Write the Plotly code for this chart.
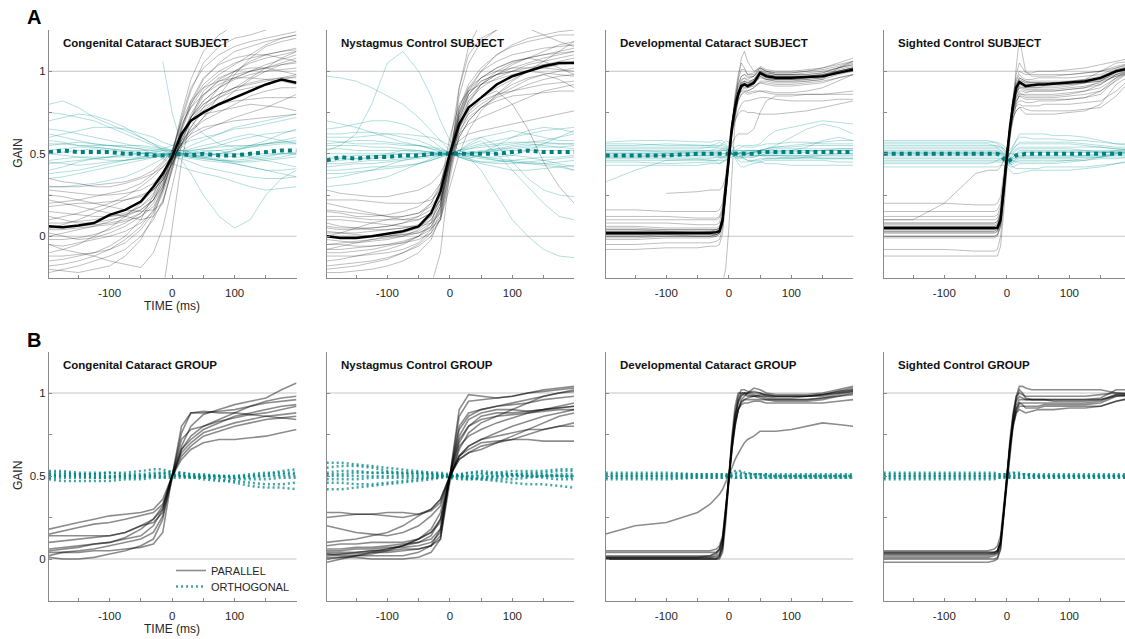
import plotly.graph_objects as go

# ---------------- time grids (ms) ----------------
TS = [-197, -175, -150, -125, -100, -75, -50, -30, -15, 0, 15, 30, 50, 75, 100, 125, 150, 175, 199]
TD = [-197, -150, -100, -50, -30, -20, -15, -10, -5, 0, 5, 10, 15, 20, 25, 30, 40, 50, 60, 75, 100, 125, 150, 175, 199]

# ---------------- A1: Congenital Cataract SUBJECT ----------------
A1_PAR = [
    [-0.15, -0.14, -0.12, -0.10, -0.06, 0.00, 0.10, 0.25, 0.38, 0.50, 0.70, 0.88, 1.05, 1.15, 1.20, 1.22, 1.25, 1.28, 1.30],
    [0.05, 0.05, 0.06, 0.07, 0.08, 0.10, 0.14, 0.22, 0.35, 0.52, 0.68, 0.78, 0.86, 0.92, 0.96, 1.00, 1.02, 1.05, 1.08],
    [0.20, 0.21, 0.22, 0.24, 0.26, 0.28, 0.32, 0.38, 0.44, 0.50, 0.58, 0.64, 0.70, 0.75, 0.80, 0.85, 0.88, 0.90, 0.90],
    [-0.05, -0.06, -0.04, -0.02, 0.00, 0.03, 0.08, 0.15, 0.28, 0.46, 0.65, 0.80, 0.95, 1.05, 1.12, 1.15, 1.18, 1.20, 1.22],
    [0.25, 0.24, 0.22, 0.20, 0.18, 0.16, 0.15, 0.16, 0.20, 0.40, 0.62, 0.70, 0.74, 0.76, 0.78, 0.80, 0.79, 0.78, 0.76],
    [0.10, 0.12, 0.14, 0.17, 0.20, 0.24, 0.30, 0.36, 0.42, 0.48, 0.55, 0.62, 0.72, 0.85, 0.98, 1.08, 1.15, 1.18, 1.20],
    [-0.20, -0.21, -0.22, -0.20, -0.18, -0.12, -0.02, 0.12, 0.28, 0.46, 0.66, 0.82, 0.96, 1.04, 1.08, 1.10, 1.10, 1.08, 1.06],
    [0.02, 0.00, -0.02, -0.01, 0.02, 0.06, 0.12, 0.20, 0.30, 0.44, 0.58, 0.70, 0.78, 0.84, 0.88, 0.90, 0.92, 0.95, 0.97],
    [0.35, 0.33, 0.32, 0.30, 0.30, 0.32, 0.35, 0.38, 0.42, 0.48, 0.56, 0.62, 0.66, 0.68, 0.70, 0.71, 0.72, 0.73, 0.74],
    [0.12, 0.10, 0.08, 0.08, 0.10, 0.12, 0.16, 0.22, 0.32, 0.50, 0.72, 0.90, 1.02, 1.10, 1.15, 1.18, 1.20, 1.22, 1.24],
    [-0.10, -0.08, -0.05, 0.00, 0.05, 0.12, 0.20, 0.28, 0.36, 0.46, 0.56, 0.64, 0.72, 0.80, 0.88, 0.95, 1.00, 1.04, 1.06],
    [0.22, 0.20, 0.18, 0.16, 0.14, 0.12, 0.10, 0.12, 0.20, 0.42, 0.60, 0.72, 0.82, 0.90, 0.95, 0.98, 1.00, 1.01, 1.02],
    [-0.18, -0.17, -0.15, -0.12, -0.08, -0.02, 0.06, 0.16, 0.30, 0.50, 0.74, 0.95, 1.12, 1.22, 1.28, 1.30, 1.30, 1.30, 1.30],
    [0.05, 0.07, 0.10, 0.14, 0.18, 0.22, 0.25, 0.28, 0.34, 0.44, 0.54, 0.60, 0.64, 0.68, 0.72, 0.75, 0.78, 0.82, 0.86],
    [-0.05, -0.08, -0.10, -0.12, -0.15, -0.17, -0.19, -0.10, 0.05, 0.30, 0.55, 0.72, 0.85, 0.95, 1.00, 1.05, 1.08, 1.10, 1.12],
    [-0.30, -0.32, -0.34, -0.36, -0.38, -0.40, -0.42, -0.42, -0.35, 0.05, 0.45, 0.72, 0.88, 0.96, 1.00, 1.02, 1.02, 1.00, 0.98],
    [0.00, 0.02, 0.04, 0.06, 0.09, 0.13, 0.18, 0.26, 0.36, 0.50, 0.66, 0.80, 0.92, 1.00, 1.05, 1.08, 1.10, 1.12, 1.14],
    [0.28, 0.27, 0.26, 0.25, 0.25, 0.26, 0.28, 0.32, 0.38, 0.46, 0.56, 0.66, 0.78, 0.90, 1.00, 1.06, 1.10, 1.12, 1.13],
    [-0.12, -0.12, -0.11, -0.10, -0.08, -0.04, 0.04, 0.14, 0.26, 0.42, 0.60, 0.74, 0.86, 0.94, 0.98, 1.00, 1.02, 1.04, 1.05],
    [0.08, 0.08, 0.09, 0.10, 0.12, 0.14, 0.18, 0.24, 0.34, 0.52, 0.70, 0.82, 0.90, 0.94, 0.96, 0.96, 0.95, 0.94, 0.92],
    [0.18, 0.19, 0.20, 0.20, 0.21, 0.22, 0.24, 0.28, 0.34, 0.44, 0.56, 0.66, 0.76, 0.84, 0.90, 0.96, 1.02, 1.08, 1.12],
    [-0.02, -0.02, -0.01, 0.01, 0.04, 0.08, 0.14, 0.22, 0.32, 0.48, 0.62, 0.72, 0.80, 0.86, 0.90, 0.92, 0.94, 0.96, 0.98],
    [0.15, 0.14, 0.13, 0.12, 0.12, 0.13, 0.16, 0.22, 0.30, 0.46, 0.64, 0.78, 0.90, 0.98, 1.04, 1.10, 1.16, 1.20, 1.22],
    [-0.22, -0.20, -0.18, -0.15, -0.12, -0.08, 0.00, 0.10, 0.22, 0.40, 0.58, 0.70, 0.80, 0.86, 0.90, 0.93, 0.95, 0.96, 0.96],
    [0.04, 0.04, 0.05, 0.06, 0.07, 0.09, 0.12, 0.18, 0.28, 0.44, 0.60, 0.70, 0.76, 0.80, 0.82, 0.83, 0.84, 0.84, 0.84],
    [0.30, 0.30, 0.30, 0.31, 0.32, 0.33, 0.36, 0.40, 0.45, 0.52, 0.62, 0.72, 0.82, 0.90, 0.96, 1.00, 1.04, 1.07, 1.10],
]
A1_ORT = [
    [0.80, 0.82, 0.78, 0.72, 0.68, 0.64, 0.60, 0.56, 0.54, 0.52, 0.50, 0.48, 0.47, 0.46, 0.46, 0.47, 0.48, 0.50, 0.50],
    [0.40, 0.42, 0.45, 0.47, 0.48, 0.50, 0.50, 0.51, 0.50, 0.50, 0.46, 0.38, 0.25, 0.12, 0.05, 0.10, 0.25, 0.35, 0.40],
    [0.60, 0.62, 0.64, 0.66, 0.66, 0.65, 0.62, 0.60, 0.57, 0.55, 0.56, 0.58, 0.60, 0.62, 0.65, 0.66, 0.68, 0.70, 0.72],
    [0.45, 0.44, 0.43, 0.44, 0.45, 0.46, 0.47, 0.48, 0.49, 0.50, 0.51, 0.52, 0.53, 0.54, 0.55, 0.55, 0.56, 0.57, 0.58],
    [0.55, 0.56, 0.57, 0.56, 0.55, 0.54, 0.53, 0.52, 0.51, 0.50, 0.48, 0.47, 0.46, 0.45, 0.44, 0.42, 0.40, 0.38, 0.36],
    [0.35, 0.36, 0.38, 0.40, 0.42, 0.44, 0.46, 0.48, 0.49, 0.50, 0.52, 0.55, 0.58, 0.62, 0.66, 0.68, 0.70, 0.72, 0.74],
    [0.70, 0.72, 0.74, 0.73, 0.70, 0.66, 0.60, 0.56, 0.52, 0.50, 0.49, 0.48, 0.48, 0.50, 0.52, 0.54, 0.56, 0.58, 0.60],
    [0.50, 0.51, 0.52, 0.53, 0.52, 0.51, 0.50, 0.50, 0.49, 0.48, 0.47, 0.45, 0.42, 0.40, 0.38, 0.36, 0.35, 0.35, 0.36],
    [0.30, 0.30, 0.31, 0.32, 0.34, 0.36, 0.40, 0.44, 0.47, 0.49, 0.50, 0.51, 0.52, 0.52, 0.50, 0.48, 0.46, 0.44, 0.42],
    [0.58, 0.57, 0.55, 0.54, 0.53, 0.52, 0.52, 0.52, 0.53, 0.55, 0.60, 0.70, 0.62, 0.56, 0.54, 0.55, 0.56, 0.57, 0.57],
    [None, None, None, None, None, None, None, None, 1.06, 0.75, 0.55, 0.50, 0.48, 0.47, 0.45, 0.45, 0.46, 0.47, 0.48],
    [0.62, 0.60, 0.58, 0.56, 0.55, 0.54, 0.53, 0.50, 0.47, 0.44, 0.42, 0.40, 0.38, 0.36, 0.33, 0.30, 0.28, 0.29, 0.30],
    [0.52, 0.53, 0.54, 0.54, 0.53, 0.52, 0.51, 0.50, 0.50, 0.50, 0.50, 0.50, 0.51, 0.52, 0.53, 0.54, 0.55, 0.56, 0.56],
    [0.46, 0.47, 0.48, 0.48, 0.48, 0.48, 0.48, 0.49, 0.49, 0.49, 0.49, 0.48, 0.47, 0.46, 0.45, 0.46, 0.47, 0.48, 0.50],
    [0.65, 0.64, 0.62, 0.60, 0.58, 0.56, 0.54, 0.53, 0.52, 0.51, 0.50, 0.49, 0.49, 0.50, 0.52, 0.55, 0.58, 0.62, 0.65],
    [0.38, 0.39, 0.40, 0.42, 0.44, 0.46, 0.48, 0.49, 0.50, 0.50, 0.50, 0.49, 0.48, 0.46, 0.44, 0.42, 0.40, 0.40, 0.41],
    [0.56, 0.56, 0.55, 0.55, 0.55, 0.55, 0.55, 0.54, 0.53, 0.52, 0.52, 0.52, 0.53, 0.55, 0.58, 0.60, 0.62, 0.63, 0.64],
    [0.44, 0.45, 0.46, 0.47, 0.48, 0.49, 0.50, 0.51, 0.52, 0.52, 0.52, 0.51, 0.50, 0.49, 0.48, 0.48, 0.49, 0.50, 0.51],
    [0.75, 0.74, 0.72, 0.70, 0.66, 0.62, 0.58, 0.55, 0.53, 0.51, 0.50, 0.50, 0.50, 0.50, 0.50, 0.50, 0.50, 0.50, 0.50],
    [0.50, 0.49, 0.48, 0.47, 0.46, 0.46, 0.47, 0.48, 0.49, 0.50, 0.51, 0.53, 0.55, 0.57, 0.60, 0.62, 0.60, 0.58, 0.56],
]
A1_PAR_MEAN = [0.06, 0.055, 0.065, 0.08, 0.13, 0.16, 0.21, 0.30, 0.38, 0.48, 0.62, 0.70, 0.75, 0.80, 0.84, 0.88, 0.92, 0.95, 0.93]
A1_ORT_MEAN = [0.51, 0.52, 0.51, 0.51, 0.51, 0.50, 0.50, 0.49, 0.49, 0.49, 0.50, 0.49, 0.50, 0.49, 0.49, 0.50, 0.51, 0.52, 0.52]

# ---------------- A2: Nystagmus Control SUBJECT ----------------
A2_PAR = [
    [-0.10, -0.10, -0.09, -0.08, -0.06, -0.04, 0.00, 0.08, 0.25, 0.52, 0.78, 0.92, 1.02, 1.10, 1.15, 1.18, 1.20, 1.22, 1.22],
    [0.05, 0.04, 0.04, 0.05, 0.06, 0.08, 0.10, 0.14, 0.22, 0.45, 0.70, 0.82, 0.90, 0.96, 1.00, 1.04, 1.06, 1.08, 1.10],
    [-0.20, -0.19, -0.18, -0.16, -0.14, -0.10, -0.05, 0.02, 0.15, 0.48, 0.85, 1.05, 1.18, 1.25, 1.30, 1.30, 1.30, 1.30, 1.30],
    [0.15, 0.14, 0.12, 0.12, 0.13, 0.15, 0.18, 0.24, 0.32, 0.50, 0.62, 0.68, 0.72, 0.76, 0.80, 0.84, 0.88, 0.90, 0.92],
    [0.28, 0.26, 0.25, 0.24, 0.24, 0.26, 0.28, 0.32, 0.38, 0.50, 0.58, 0.62, 0.64, 0.66, 0.68, 0.70, 0.72, 0.74, 0.76],
    [-0.02, -0.03, -0.04, -0.03, -0.02, 0.00, 0.04, 0.10, 0.20, 0.42, 0.65, 0.80, 0.92, 1.00, 1.05, 1.08, 1.10, 1.12, 1.14],
    [0.00, 0.02, 0.05, 0.08, 0.10, 0.12, 0.14, 0.18, 0.26, 0.50, 0.74, 0.86, 0.94, 0.98, 1.00, 1.00, 0.99, 0.98, 0.97],
    [-0.15, -0.14, -0.12, -0.10, -0.08, -0.05, 0.00, 0.06, 0.18, 0.55, 0.90, 1.10, 1.20, 1.25, 1.28, 1.26, 1.22, 1.18, 1.15],
    [0.10, 0.10, 0.09, 0.08, 0.07, 0.06, 0.06, 0.08, 0.14, 0.40, 0.60, 0.70, 0.78, 0.85, 0.90, 0.95, 0.98, 1.00, 1.02],
    [-0.08, -0.06, -0.04, -0.02, 0.00, 0.02, 0.05, 0.12, 0.30, 0.60, 0.80, 0.88, 0.92, 0.95, 0.98, 1.00, 1.02, 1.04, 1.05],
    [0.20, 0.18, 0.16, 0.14, 0.12, 0.10, 0.10, 0.14, 0.22, 0.46, 0.68, 0.78, 0.84, 0.88, 0.80, 0.65, 0.45, 0.30, 0.20],
    [-0.22, -0.22, -0.21, -0.20, -0.18, -0.15, -0.10, -0.02, 0.12, 0.45, 0.75, 0.90, 1.00, 1.06, 1.10, 1.12, 1.14, 1.15, 1.16],
    [0.03, 0.02, 0.01, 0.00, 0.00, 0.01, 0.02, 0.05, 0.10, 0.35, 0.62, 0.75, 0.84, 0.90, 0.95, 1.00, 1.06, 1.12, 1.18],
    [-0.35, -0.35, -0.35, -0.35, -0.35, -0.35, -0.35, -0.30, -0.10, 0.40, 0.90, 1.15, 1.30, 1.30, 1.30, 1.30, 1.30, 1.30, 1.30],
    [0.08, 0.06, 0.05, 0.05, 0.06, 0.08, 0.12, 0.20, 0.32, 0.52, 0.66, 0.74, 0.80, 0.86, 0.92, 0.96, 0.98, 0.95, 0.90],
    [-0.05, -0.05, -0.06, -0.06, -0.05, -0.04, -0.02, 0.02, 0.10, 0.30, 0.50, 0.64, 0.76, 0.86, 0.94, 1.00, 1.04, 1.06, 1.08],
    [0.02, 0.02, 0.02, 0.03, 0.04, 0.05, 0.07, 0.12, 0.22, 0.50, 0.76, 0.88, 0.96, 1.02, 1.06, 1.08, 1.10, 1.11, 1.12],
    [-0.12, -0.12, -0.12, -0.11, -0.10, -0.08, -0.04, 0.04, 0.18, 0.46, 0.72, 0.86, 0.94, 0.98, 1.00, 1.02, 1.04, 1.05, 1.06],
    [0.22, 0.22, 0.22, 0.21, 0.20, 0.20, 0.20, 0.22, 0.28, 0.44, 0.60, 0.70, 0.78, 0.84, 0.88, 0.92, 0.95, 0.97, 0.98],
    [0.06, 0.05, 0.05, 0.04, 0.04, 0.05, 0.06, 0.10, 0.20, 0.48, 0.74, 0.88, 1.00, 1.10, 1.16, 1.20, 1.22, 1.24, 1.25],
    [-0.05, -0.04, -0.03, -0.02, -0.01, 0.00, 0.02, 0.06, 0.16, 0.44, 0.66, 0.76, 0.82, 0.86, 0.88, 0.90, 0.92, 0.93, 0.94],
    [0.12, 0.12, 0.11, 0.10, 0.10, 0.10, 0.12, 0.16, 0.24, 0.50, 0.72, 0.84, 0.92, 0.98, 1.02, 1.05, 1.08, 1.10, 1.12],
    [-0.18, -0.17, -0.16, -0.15, -0.13, -0.10, -0.06, 0.00, 0.10, 0.38, 0.66, 0.82, 0.92, 0.98, 1.04, 1.08, 1.12, 1.16, 1.18],
    [0.00, 0.00, 0.00, 0.00, 0.00, 0.01, 0.03, 0.08, 0.18, 0.50, 0.78, 0.90, 0.96, 1.00, 1.02, 1.02, 1.02, 1.01, 1.00],
    [0.16, 0.15, 0.14, 0.13, 0.12, 0.12, 0.14, 0.20, 0.30, 0.50, 0.64, 0.72, 0.78, 0.82, 0.85, 0.86, 0.87, 0.88, 0.88],
    [-0.08, -0.08, -0.07, -0.06, -0.05, -0.03, 0.00, 0.04, 0.12, 0.40, 0.70, 0.86, 0.96, 1.02, 1.06, 1.08, 1.06, 1.02, 0.98],
]
A2_ORT = [
    [0.52, 0.55, 0.62, 0.80, 1.05, 1.12, 1.00, 0.85, 0.70, 0.58, 0.52, 0.50, 0.48, 0.46, 0.45, 0.44, 0.44, 0.45, 0.46],
    [0.97, 0.96, 0.94, 0.90, 0.85, 0.80, 0.72, 0.64, 0.58, 0.52, 0.48, 0.46, 0.45, 0.45, 0.46, 0.47, 0.48, 0.48, 0.49],
    [0.45, 0.46, 0.47, 0.48, 0.50, 0.52, 0.52, 0.51, 0.50, 0.50, 0.50, 0.48, 0.40, 0.25, 0.10, 0.00, -0.08, -0.12, -0.13],
    [0.60, 0.60, 0.60, 0.61, 0.62, 0.62, 0.61, 0.60, 0.58, 0.55, 0.56, 0.58, 0.60, 0.62, 0.64, 0.62, 0.60, 0.58, 0.58],
    [0.40, 0.40, 0.41, 0.42, 0.42, 0.43, 0.44, 0.46, 0.48, 0.50, 0.52, 0.53, 0.54, 0.55, 0.56, 0.57, 0.58, 0.60, 0.62],
    [0.55, 0.55, 0.55, 0.54, 0.54, 0.53, 0.52, 0.51, 0.50, 0.50, 0.49, 0.48, 0.47, 0.46, 0.45, 0.44, 0.43, 0.42, 0.40],
    [0.35, 0.36, 0.38, 0.40, 0.43, 0.46, 0.48, 0.49, 0.50, 0.50, 0.52, 0.56, 0.60, 0.55, 0.45, 0.35, 0.28, 0.25, 0.24],
    [0.65, 0.66, 0.68, 0.70, 0.70, 0.68, 0.64, 0.58, 0.54, 0.50, 0.48, 0.47, 0.50, 0.55, 0.60, 0.64, 0.66, 0.65, 0.63],
    [0.48, 0.48, 0.49, 0.49, 0.49, 0.50, 0.50, 0.50, 0.50, 0.50, 0.50, 0.51, 0.52, 0.53, 0.53, 0.54, 0.54, 0.54, 0.55],
    [0.30, 0.31, 0.32, 0.34, 0.36, 0.40, 0.44, 0.47, 0.49, 0.50, 0.52, 0.55, 0.58, 0.50, 0.40, 0.30, 0.20, 0.12, 0.10],
    [0.58, 0.57, 0.56, 0.56, 0.56, 0.55, 0.55, 0.54, 0.53, 0.51, 0.50, 0.49, 0.48, 0.48, 0.49, 0.52, 0.56, 0.60, 0.64],
    [0.42, 0.43, 0.44, 0.44, 0.45, 0.46, 0.47, 0.48, 0.49, 0.50, 0.50, 0.51, 0.51, 0.50, 0.49, 0.48, 0.46, 0.44, 0.42],
    [0.50, 0.50, 0.50, 0.50, 0.50, 0.50, 0.50, 0.50, 0.50, 0.50, 0.50, 0.50, 0.51, 0.52, 0.52, 0.52, 0.52, 0.52, 0.52],
    [0.53, 0.53, 0.52, 0.52, 0.52, 0.52, 0.51, 0.51, 0.51, 0.50, 0.49, 0.47, 0.45, 0.44, 0.44, 0.45, 0.46, 0.47, 0.48],
    [0.44, 0.44, 0.45, 0.46, 0.46, 0.47, 0.48, 0.49, 0.50, 0.50, 0.51, 0.53, 0.55, 0.56, 0.57, 0.57, 0.57, 0.56, 0.56],
    [0.62, 0.62, 0.63, 0.63, 0.62, 0.60, 0.58, 0.55, 0.52, 0.50, 0.48, 0.46, 0.44, 0.42, 0.40, 0.40, 0.41, 0.42, 0.43],
    [0.38, 0.38, 0.39, 0.40, 0.41, 0.42, 0.44, 0.46, 0.48, 0.50, 0.52, 0.54, 0.56, 0.58, 0.60, 0.62, 0.64, 0.65, 0.66],
    [0.56, 0.57, 0.58, 0.58, 0.57, 0.56, 0.55, 0.53, 0.51, 0.50, 0.50, 0.50, 0.51, 0.53, 0.55, 0.56, 0.55, 0.54, 0.53],
    [0.47, 0.47, 0.47, 0.47, 0.48, 0.48, 0.48, 0.49, 0.49, 0.50, 0.50, 0.49, 0.48, 0.47, 0.46, 0.45, 0.44, 0.43, 0.40],
    [0.70, 0.68, 0.66, 0.63, 0.60, 0.57, 0.55, 0.53, 0.52, 0.51, 0.50, 0.50, 0.50, 0.52, 0.54, 0.55, 0.56, 0.56, 0.56],
]
A2_PAR_MEAN = [0.00, -0.01, -0.01, 0.00, 0.015, 0.03, 0.06, 0.14, 0.27, 0.50, 0.68, 0.78, 0.84, 0.92, 0.97, 1.00, 1.03, 1.05, 1.05]
A2_ORT_MEAN = [0.46, 0.48, 0.47, 0.48, 0.48, 0.49, 0.49, 0.50, 0.50, 0.50, 0.50, 0.50, 0.50, 0.50, 0.51, 0.52, 0.51, 0.51, 0.51]

# ---------------- A3: Developmental Cataract SUBJECT ----------------
A3_PAR = [
    [0.00, 0.00, 0.01, 0.01, 0.01, 0.01, 0.02, 0.08, 0.28, 0.48, 0.66, 0.80, 0.90, 0.95, 0.96, 0.95, 0.97, 1.02, 1.00, 0.98, 0.98, 0.99, 1.00, 1.02, 1.04],
    [0.04, 0.04, 0.03, 0.03, 0.03, 0.04, 0.05, 0.12, 0.32, 0.52, 0.68, 0.80, 0.88, 0.92, 0.93, 0.92, 0.94, 0.98, 0.96, 0.95, 0.95, 0.95, 0.96, 1.00, 1.02],
    [-0.02, -0.02, -0.01, -0.01, -0.01, 0.00, 0.02, 0.10, 0.30, 0.50, 0.70, 0.86, 0.98, 1.05, 1.02, 0.98, 0.99, 1.03, 1.01, 1.00, 1.00, 1.01, 1.02, 1.05, 1.08],
    [0.06, 0.06, 0.05, 0.05, 0.05, 0.05, 0.06, 0.12, 0.30, 0.50, 0.64, 0.74, 0.82, 0.86, 0.88, 0.88, 0.90, 0.93, 0.92, 0.91, 0.91, 0.92, 0.93, 0.96, 0.98],
    [0.01, 0.01, 0.01, 0.00, 0.00, 0.01, 0.02, 0.06, 0.24, 0.46, 0.62, 0.74, 0.84, 0.90, 0.92, 0.90, 0.92, 0.97, 0.95, 0.94, 0.94, 0.94, 0.95, 1.02, 1.06],
    [0.16, 0.16, 0.15, 0.15, 0.15, 0.15, 0.16, 0.20, 0.34, 0.50, 0.62, 0.70, 0.76, 0.80, 0.82, 0.82, 0.83, 0.84, 0.84, 0.83, 0.82, 0.82, 0.82, 0.83, 0.83],
    [0.12, 0.12, 0.12, 0.11, 0.11, 0.11, 0.12, 0.18, 0.34, 0.52, 0.66, 0.76, 0.84, 0.88, 0.90, 0.90, 0.91, 0.93, 0.93, 0.92, 0.92, 0.93, 0.94, 0.96, 0.98],
    [-0.05, -0.05, -0.04, -0.04, -0.04, -0.03, -0.02, 0.05, 0.25, 0.46, 0.64, 0.78, 0.88, 0.94, 0.96, 0.94, 0.95, 1.00, 0.98, 0.97, 0.97, 0.97, 0.98, 1.00, 1.02],
    [None, None, 0.26, 0.27, 0.28, 0.28, 0.28, 0.30, 0.36, 0.48, 0.56, 0.60, 0.62, 0.62, 0.62, 0.62, 0.65, 0.75, 0.82, 0.85, 0.85, 0.86, 0.86, 0.86, 0.86],
    [0.08, 0.08, 0.08, 0.07, 0.07, 0.07, 0.08, 0.16, 0.36, 0.56, 0.70, 0.80, 0.86, 0.88, 0.88, 0.87, 0.88, 0.88, 0.87, 0.86, 0.86, 0.86, 0.86, 0.87, 0.88],
    [0.02, 0.02, 0.02, 0.02, 0.03, 0.03, 0.04, 0.10, 0.28, 0.48, 0.62, 0.70, 0.74, 0.76, 0.76, 0.75, 0.75, 0.74, 0.74, 0.74, 0.75, 0.76, 0.78, 0.80, 0.82],
    [-0.08, -0.08, -0.07, -0.07, -0.06, -0.06, -0.05, 0.02, 0.22, 0.44, 0.64, 0.82, 0.96, 1.08, 1.12, 1.06, 1.00, 1.02, 1.00, 0.99, 0.99, 1.00, 1.02, 1.04, 1.06],
    [-0.30, -0.30, -0.30, -0.30, -0.30, -0.30, -0.30, -0.28, -0.20, 0.05, 0.40, 0.70, 0.85, 0.90, 0.90, 0.88, 0.90, 0.94, 0.94, 0.93, 0.93, 0.94, 0.95, 0.98, 1.00],
    [0.01, 0.01, 0.02, 0.02, 0.02, 0.02, 0.03, 0.08, 0.26, 0.47, 0.66, 0.82, 0.92, 0.97, 0.98, 0.97, 0.97, 1.00, 0.99, 0.98, 0.98, 0.98, 0.99, 1.02, 1.04],
    [0.02, 0.02, 0.02, 0.02, 0.02, 0.02, 0.03, 0.09, 0.29, 0.49, 0.66, 0.79, 0.88, 0.93, 0.94, 0.93, 0.95, 1.00, 0.98, 0.97, 0.97, 0.97, 0.98, 1.01, 1.03],
    [0.03, 0.03, 0.03, 0.03, 0.03, 0.03, 0.04, 0.11, 0.31, 0.51, 0.67, 0.78, 0.86, 0.90, 0.91, 0.90, 0.92, 0.97, 0.95, 0.94, 0.94, 0.95, 0.96, 0.99, 1.01],
    [0.00, 0.00, 0.00, 0.00, 0.00, 0.01, 0.02, 0.08, 0.28, 0.50, 0.68, 0.82, 0.92, 0.97, 0.98, 0.96, 0.97, 1.01, 0.99, 0.98, 0.98, 0.98, 0.99, 1.02, 1.05],
    [0.05, 0.05, 0.04, 0.04, 0.04, 0.04, 0.05, 0.10, 0.28, 0.48, 0.64, 0.76, 0.85, 0.90, 0.92, 0.92, 0.93, 0.96, 0.95, 0.95, 0.95, 0.96, 0.97, 1.00, 1.02],
    [-0.01, -0.01, 0.00, 0.00, 0.00, 0.00, 0.01, 0.07, 0.27, 0.49, 0.68, 0.84, 0.95, 1.01, 1.01, 0.98, 0.98, 1.02, 1.00, 0.99, 0.99, 1.00, 1.01, 1.03, 1.06],
    [0.03, 0.03, 0.03, 0.02, 0.02, 0.02, 0.03, 0.09, 0.29, 0.50, 0.66, 0.78, 0.87, 0.92, 0.93, 0.92, 0.94, 0.98, 0.96, 0.95, 0.95, 0.96, 0.97, 0.99, 1.00],
    [0.01, 0.01, 0.01, 0.01, 0.01, 0.01, 0.02, 0.08, 0.27, 0.47, 0.64, 0.78, 0.87, 0.92, 0.94, 0.93, 0.94, 0.99, 0.97, 0.96, 0.96, 0.96, 0.97, 1.00, 1.02],
    [0.04, 0.04, 0.04, 0.04, 0.04, 0.04, 0.05, 0.12, 0.32, 0.52, 0.68, 0.80, 0.88, 0.93, 0.94, 0.93, 0.95, 0.99, 0.98, 0.97, 0.97, 0.97, 0.98, 1.00, 1.02],
    [0.10, 0.10, 0.10, 0.10, 0.10, 0.10, 0.11, 0.16, 0.32, 0.50, 0.64, 0.74, 0.82, 0.86, 0.87, 0.86, 0.87, 0.88, 0.88, 0.87, 0.87, 0.88, 0.90, 0.94, 0.98],
]
A3_ORT = [
    [0.55, 0.55, 0.56, 0.55, 0.55, 0.56, 0.57, 0.56, 0.55, 0.52, 0.50, 0.48, 0.47, 0.47, 0.48, 0.48, 0.48, 0.49, 0.50, 0.50, 0.50, 0.51, 0.52, 0.53, 0.53],
    [0.45, 0.45, 0.44, 0.45, 0.45, 0.45, 0.44, 0.45, 0.47, 0.49, 0.52, 0.54, 0.55, 0.55, 0.54, 0.54, 0.54, 0.55, 0.56, 0.56, 0.57, 0.57, 0.56, 0.56, 0.56],
    [0.52, 0.52, 0.51, 0.52, 0.52, 0.52, 0.52, 0.53, 0.53, 0.52, 0.50, 0.47, 0.44, 0.42, 0.42, 0.43, 0.44, 0.45, 0.46, 0.46, 0.46, 0.46, 0.46, 0.45, 0.45],
    [0.48, 0.48, 0.49, 0.49, 0.49, 0.50, 0.50, 0.50, 0.50, 0.50, 0.50, 0.50, 0.51, 0.51, 0.51, 0.52, 0.52, 0.52, 0.53, 0.55, 0.60, 0.65, 0.68, 0.66, 0.62],
    [0.33, 0.40, 0.46, 0.47, 0.47, 0.48, 0.48, 0.48, 0.49, 0.50, 0.51, 0.52, 0.52, 0.52, 0.51, 0.51, 0.50, 0.50, 0.49, 0.49, 0.48, 0.48, 0.47, 0.47, 0.47],
    [0.57, 0.58, 0.58, 0.57, 0.57, 0.58, 0.58, 0.58, 0.56, 0.53, 0.50, 0.48, 0.48, 0.49, 0.50, 0.50, 0.51, 0.52, 0.53, 0.54, 0.55, 0.56, 0.57, 0.58, 0.58],
    [0.43, 0.43, 0.43, 0.43, 0.44, 0.44, 0.44, 0.45, 0.46, 0.48, 0.50, 0.51, 0.50, 0.48, 0.47, 0.46, 0.45, 0.45, 0.44, 0.44, 0.43, 0.43, 0.43, 0.43, 0.43],
    [0.50, 0.50, 0.50, 0.51, 0.51, 0.51, 0.51, 0.52, 0.52, 0.52, 0.52, 0.52, 0.53, 0.54, 0.55, 0.55, 0.55, 0.56, 0.60, 0.64, 0.66, 0.68, 0.70, 0.69, 0.68],
    [0.53, 0.53, 0.53, 0.53, 0.54, 0.54, 0.55, 0.56, 0.58, 0.57, 0.55, 0.52, 0.50, 0.48, 0.47, 0.46, 0.46, 0.47, 0.47, 0.47, 0.47, 0.48, 0.48, 0.48, 0.48],
    [0.47, 0.47, 0.47, 0.47, 0.46, 0.46, 0.46, 0.46, 0.46, 0.47, 0.48, 0.49, 0.50, 0.51, 0.52, 0.52, 0.52, 0.52, 0.52, 0.52, 0.52, 0.52, 0.52, 0.52, 0.52],
    [0.50, 0.50, 0.50, 0.50, 0.50, 0.50, 0.50, 0.50, 0.50, 0.50, 0.50, 0.50, 0.50, 0.50, 0.50, 0.50, 0.51, 0.51, 0.51, 0.51, 0.51, 0.52, 0.52, 0.52, 0.52],
    [0.51, 0.51, 0.51, 0.51, 0.51, 0.51, 0.52, 0.52, 0.52, 0.51, 0.50, 0.49, 0.48, 0.48, 0.48, 0.48, 0.48, 0.49, 0.49, 0.49, 0.49, 0.49, 0.49, 0.50, 0.50],
    [0.49, 0.49, 0.49, 0.49, 0.49, 0.49, 0.48, 0.48, 0.48, 0.49, 0.50, 0.51, 0.52, 0.52, 0.52, 0.52, 0.52, 0.52, 0.52, 0.53, 0.53, 0.53, 0.53, 0.53, 0.53],
    [0.54, 0.54, 0.54, 0.54, 0.54, 0.54, 0.54, 0.54, 0.53, 0.52, 0.50, 0.49, 0.48, 0.48, 0.49, 0.50, 0.51, 0.52, 0.53, 0.54, 0.54, 0.55, 0.55, 0.55, 0.55],
    [0.46, 0.46, 0.46, 0.46, 0.46, 0.46, 0.47, 0.47, 0.48, 0.49, 0.50, 0.50, 0.50, 0.50, 0.50, 0.50, 0.49, 0.49, 0.48, 0.48, 0.47, 0.47, 0.47, 0.47, 0.47],
    [0.52, 0.52, 0.52, 0.52, 0.52, 0.53, 0.53, 0.53, 0.52, 0.51, 0.50, 0.50, 0.50, 0.51, 0.51, 0.51, 0.51, 0.51, 0.51, 0.51, 0.52, 0.54, 0.58, 0.60, 0.58],
    [0.48, 0.48, 0.48, 0.48, 0.48, 0.48, 0.48, 0.48, 0.49, 0.50, 0.51, 0.51, 0.51, 0.50, 0.50, 0.49, 0.49, 0.49, 0.49, 0.49, 0.49, 0.49, 0.50, 0.50, 0.50],
    [0.56, 0.56, 0.55, 0.55, 0.55, 0.55, 0.55, 0.55, 0.54, 0.52, 0.50, 0.48, 0.46, 0.45, 0.45, 0.45, 0.46, 0.46, 0.47, 0.47, 0.48, 0.48, 0.49, 0.49, 0.49],
]
A3_PAR_MEAN = [0.02, 0.02, 0.02, 0.02, 0.02, 0.025, 0.03, 0.10, 0.30, 0.50, 0.66, 0.78, 0.86, 0.91, 0.92, 0.91, 0.93, 0.99, 0.97, 0.96, 0.96, 0.965, 0.97, 0.99, 1.01]
A3_ORT_MEAN = [0.49, 0.49, 0.49, 0.50, 0.50, 0.50, 0.50, 0.50, 0.50, 0.50, 0.50, 0.50, 0.50, 0.50, 0.50, 0.50, 0.50, 0.51, 0.51, 0.51, 0.51, 0.51, 0.51, 0.51, 0.51]

# ---------------- A4: Sighted Control SUBJECT ----------------
A4_PAR = [
    [0.04, 0.04, 0.04, 0.04, 0.04, 0.04, 0.05, 0.10, 0.28, 0.50, 0.68, 0.84, 0.94, 0.98, 0.96, 0.95, 0.95, 0.96, 0.96, 0.96, 0.96, 0.97, 0.98, 1.02, 1.05],
    [0.08, 0.08, 0.08, 0.08, 0.08, 0.08, 0.09, 0.14, 0.32, 0.52, 0.66, 0.76, 0.82, 0.85, 0.84, 0.83, 0.83, 0.83, 0.83, 0.83, 0.83, 0.84, 0.86, 0.95, 1.00],
    [-0.01, -0.01, -0.01, -0.01, -0.01, -0.01, 0.00, 0.06, 0.24, 0.46, 0.66, 0.84, 0.98, 1.05, 1.02, 0.99, 0.99, 1.00, 1.00, 1.00, 1.01, 1.02, 1.04, 1.06, 1.08],
    [0.02, 0.02, 0.02, 0.02, 0.02, 0.02, 0.03, 0.08, 0.26, 0.48, 0.64, 0.76, 0.84, 0.88, 0.88, 0.87, 0.88, 0.88, 0.88, 0.88, 0.89, 0.90, 0.92, 0.98, 1.00],
    [0.15, 0.15, 0.15, 0.15, 0.15, 0.15, 0.16, 0.20, 0.34, 0.52, 0.64, 0.72, 0.76, 0.78, 0.78, 0.77, 0.76, 0.76, 0.76, 0.76, 0.76, 0.77, 0.78, 0.85, 0.95],
    [0.20, 0.20, 0.20, 0.19, 0.19, 0.19, 0.20, 0.24, 0.38, 0.54, 0.66, 0.74, 0.79, 0.80, 0.79, 0.79, 0.79, 0.79, 0.80, 0.80, 0.80, 0.81, 0.82, 0.88, 0.96],
    [-0.08, -0.08, -0.08, -0.09, -0.09, -0.09, -0.08, 0.00, 0.20, 0.42, 0.62, 0.82, 1.02, 1.20, 1.10, 1.00, 0.97, 0.97, 0.97, 0.97, 0.98, 0.99, 1.00, 1.02, 1.04],
    [0.10, 0.10, 0.20, 0.38, 0.40, 0.40, 0.40, 0.42, 0.46, 0.52, 0.60, 0.70, 0.80, 0.86, 0.86, 0.85, 0.85, 0.85, 0.85, 0.85, 0.86, 0.88, 0.90, 0.96, 1.00],
    [0.06, 0.06, 0.06, 0.06, 0.06, 0.06, 0.07, 0.12, 0.30, 0.50, 0.64, 0.74, 0.80, 0.82, 0.82, 0.81, 0.81, 0.82, 0.82, 0.82, 0.83, 0.84, 0.88, 0.96, 1.02],
    [0.00, 0.00, 0.00, 0.00, 0.00, 0.00, 0.01, 0.06, 0.24, 0.46, 0.66, 0.82, 0.92, 0.96, 0.95, 0.94, 0.93, 0.93, 0.93, 0.93, 0.93, 0.93, 0.94, 0.97, 0.99],
    [-0.12, -0.12, -0.12, -0.12, -0.12, -0.12, -0.12, -0.06, 0.14, 0.40, 0.60, 0.76, 0.86, 0.90, 0.90, 0.90, 0.90, 0.90, 0.90, 0.90, 0.91, 0.93, 0.96, 1.00, 1.02],
    [0.05, 0.05, 0.05, 0.05, 0.05, 0.05, 0.06, 0.10, 0.28, 0.50, 0.66, 0.78, 0.86, 0.92, 0.92, 0.91, 0.91, 0.91, 0.92, 0.92, 0.92, 0.93, 0.94, 1.00, 1.03],
    [0.12, 0.12, 0.12, 0.12, 0.12, 0.12, 0.13, 0.18, 0.34, 0.52, 0.66, 0.78, 0.88, 0.94, 0.94, 0.93, 0.93, 0.93, 0.93, 0.93, 0.94, 0.95, 1.00, 1.05, 1.06],
    [0.03, 0.03, 0.03, 0.03, 0.03, 0.03, 0.04, 0.08, 0.26, 0.48, 0.62, 0.72, 0.76, 0.78, 0.76, 0.74, 0.74, 0.74, 0.74, 0.74, 0.75, 0.76, 0.80, 0.92, 0.98],
    [0.04, 0.04, 0.04, 0.04, 0.04, 0.04, 0.05, 0.10, 0.28, 0.50, 0.67, 0.81, 0.90, 0.94, 0.93, 0.92, 0.92, 0.92, 0.92, 0.93, 0.93, 0.94, 0.96, 1.01, 1.03],
    [0.06, 0.06, 0.06, 0.06, 0.06, 0.06, 0.07, 0.12, 0.30, 0.51, 0.66, 0.79, 0.88, 0.92, 0.91, 0.90, 0.90, 0.90, 0.91, 0.91, 0.92, 0.93, 0.95, 1.00, 1.02],
    [0.02, 0.02, 0.02, 0.02, 0.02, 0.02, 0.03, 0.08, 0.26, 0.48, 0.66, 0.82, 0.92, 0.96, 0.95, 0.94, 0.94, 0.94, 0.94, 0.94, 0.94, 0.95, 0.97, 1.01, 1.03],
    [0.08, 0.08, 0.08, 0.08, 0.08, 0.08, 0.09, 0.14, 0.31, 0.51, 0.66, 0.78, 0.86, 0.90, 0.89, 0.88, 0.88, 0.88, 0.88, 0.88, 0.89, 0.90, 0.94, 0.99, 1.02],
    [0.05, 0.05, 0.05, 0.05, 0.05, 0.05, 0.06, 0.11, 0.29, 0.50, 0.67, 0.80, 0.90, 0.95, 0.94, 0.93, 0.93, 0.93, 0.93, 0.93, 0.93, 0.94, 0.95, 0.98, 1.01],
    [0.03, 0.03, 0.03, 0.03, 0.03, 0.03, 0.04, 0.09, 0.27, 0.49, 0.65, 0.78, 0.87, 0.91, 0.90, 0.89, 0.89, 0.89, 0.89, 0.89, 0.90, 0.91, 0.93, 0.97, 1.00],
    [0.07, 0.07, 0.07, 0.07, 0.07, 0.07, 0.08, 0.13, 0.30, 0.50, 0.65, 0.76, 0.84, 0.87, 0.86, 0.86, 0.86, 0.86, 0.86, 0.86, 0.87, 0.88, 0.92, 0.98, 1.02],
    [0.00, 0.00, 0.00, 0.00, 0.00, 0.00, 0.01, 0.07, 0.25, 0.47, 0.66, 0.83, 0.95, 1.00, 0.99, 0.98, 0.98, 0.98, 0.98, 0.98, 0.98, 0.99, 1.00, 1.03, 1.05],
    [0.10, 0.10, 0.10, 0.10, 0.10, 0.10, 0.11, 0.16, 0.32, 0.52, 0.66, 0.76, 0.82, 0.85, 0.85, 0.84, 0.84, 0.84, 0.84, 0.84, 0.85, 0.86, 0.88, 0.94, 1.00],
]
A4_ORT = [
    [0.56, 0.56, 0.56, 0.56, 0.56, 0.55, 0.54, 0.52, 0.50, 0.48, 0.50, 0.54, 0.58, 0.60, 0.60, 0.60, 0.59, 0.59, 0.59, 0.59, 0.58, 0.58, 0.57, 0.56, 0.56],
    [0.44, 0.44, 0.44, 0.44, 0.44, 0.45, 0.46, 0.47, 0.47, 0.46, 0.44, 0.42, 0.41, 0.41, 0.41, 0.41, 0.41, 0.41, 0.42, 0.42, 0.42, 0.42, 0.43, 0.44, 0.45],
    [0.52, 0.52, 0.52, 0.52, 0.52, 0.52, 0.52, 0.51, 0.49, 0.46, 0.47, 0.50, 0.52, 0.53, 0.53, 0.53, 0.53, 0.53, 0.53, 0.53, 0.53, 0.52, 0.52, 0.52, 0.52],
    [0.48, 0.48, 0.48, 0.48, 0.48, 0.48, 0.48, 0.48, 0.47, 0.45, 0.44, 0.45, 0.46, 0.47, 0.47, 0.47, 0.47, 0.47, 0.47, 0.47, 0.47, 0.48, 0.48, 0.49, 0.49],
    [0.58, 0.58, 0.58, 0.58, 0.58, 0.57, 0.57, 0.56, 0.55, 0.52, 0.52, 0.55, 0.58, 0.62, 0.62, 0.62, 0.62, 0.62, 0.62, 0.61, 0.61, 0.60, 0.58, 0.56, 0.55],
    [0.42, 0.42, 0.42, 0.42, 0.42, 0.42, 0.42, 0.43, 0.43, 0.42, 0.40, 0.38, 0.38, 0.38, 0.39, 0.39, 0.40, 0.40, 0.40, 0.40, 0.40, 0.41, 0.42, 0.44, 0.46],
    [0.50, 0.50, 0.50, 0.50, 0.50, 0.50, 0.50, 0.50, 0.50, 0.50, 0.50, 0.50, 0.50, 0.50, 0.51, 0.51, 0.51, 0.51, 0.51, 0.51, 0.51, 0.51, 0.51, 0.51, 0.51],
    [0.54, 0.54, 0.54, 0.54, 0.54, 0.54, 0.54, 0.54, 0.53, 0.51, 0.48, 0.46, 0.45, 0.45, 0.45, 0.45, 0.45, 0.45, 0.45, 0.45, 0.46, 0.47, 0.48, 0.50, 0.52],
    [0.46, 0.46, 0.46, 0.46, 0.46, 0.46, 0.46, 0.46, 0.46, 0.47, 0.50, 0.53, 0.55, 0.56, 0.56, 0.56, 0.56, 0.56, 0.56, 0.56, 0.56, 0.55, 0.54, 0.53, 0.52],
    [0.51, 0.51, 0.51, 0.51, 0.51, 0.51, 0.51, 0.50, 0.48, 0.44, 0.42, 0.42, 0.43, 0.44, 0.44, 0.44, 0.44, 0.44, 0.44, 0.44, 0.45, 0.46, 0.48, 0.50, 0.50],
    [0.50, 0.50, 0.50, 0.50, 0.50, 0.50, 0.50, 0.50, 0.49, 0.47, 0.46, 0.47, 0.48, 0.49, 0.49, 0.49, 0.49, 0.49, 0.49, 0.49, 0.49, 0.49, 0.49, 0.50, 0.50],
    [0.53, 0.53, 0.53, 0.53, 0.53, 0.53, 0.53, 0.52, 0.51, 0.49, 0.49, 0.51, 0.53, 0.54, 0.54, 0.54, 0.54, 0.54, 0.54, 0.54, 0.54, 0.54, 0.54, 0.53, 0.53],
    [0.47, 0.47, 0.47, 0.47, 0.47, 0.47, 0.47, 0.47, 0.46, 0.44, 0.43, 0.44, 0.45, 0.46, 0.46, 0.46, 0.46, 0.46, 0.46, 0.46, 0.46, 0.46, 0.47, 0.47, 0.48],
    [0.55, 0.55, 0.55, 0.55, 0.55, 0.55, 0.55, 0.54, 0.52, 0.50, 0.50, 0.52, 0.55, 0.57, 0.57, 0.57, 0.57, 0.57, 0.57, 0.57, 0.57, 0.56, 0.55, 0.54, 0.54],
    [0.45, 0.45, 0.45, 0.45, 0.45, 0.45, 0.45, 0.45, 0.45, 0.44, 0.44, 0.45, 0.47, 0.48, 0.48, 0.48, 0.48, 0.48, 0.48, 0.48, 0.48, 0.48, 0.48, 0.48, 0.48],
    [0.51, 0.51, 0.51, 0.51, 0.51, 0.51, 0.51, 0.51, 0.50, 0.48, 0.47, 0.48, 0.50, 0.51, 0.51, 0.51, 0.51, 0.51, 0.51, 0.51, 0.51, 0.51, 0.51, 0.51, 0.51],
    [0.49, 0.49, 0.49, 0.49, 0.49, 0.49, 0.49, 0.49, 0.48, 0.46, 0.46, 0.48, 0.50, 0.52, 0.52, 0.52, 0.52, 0.52, 0.52, 0.52, 0.52, 0.52, 0.51, 0.51, 0.51],
    [0.57, 0.57, 0.57, 0.57, 0.57, 0.57, 0.56, 0.55, 0.53, 0.50, 0.48, 0.47, 0.47, 0.48, 0.48, 0.48, 0.48, 0.48, 0.48, 0.48, 0.48, 0.49, 0.50, 0.52, 0.53],
]
A4_PAR_MEAN = [0.05, 0.05, 0.05, 0.05, 0.05, 0.05, 0.05, 0.10, 0.28, 0.50, 0.66, 0.80, 0.90, 0.935, 0.92, 0.91, 0.915, 0.92, 0.92, 0.925, 0.93, 0.94, 0.96, 1.00, 1.02]
A4_ORT_MEAN = [0.50, 0.50, 0.50, 0.50, 0.50, 0.50, 0.50, 0.49, 0.47, 0.45, 0.46, 0.48, 0.49, 0.49, 0.495, 0.50, 0.50, 0.50, 0.50, 0.50, 0.50, 0.50, 0.50, 0.50, 0.50]

# ---------------- B1: Congenital Cataract GROUP ----------------
B1_PAR = [
    [0.15, 0.17, 0.19, 0.21, 0.22, 0.24, 0.26, 0.28, 0.33, 0.50, 0.68, 0.80, 0.87, 0.90, 0.93, 0.95, 0.97, 1.02, 1.06],
    [0.18, 0.20, 0.22, 0.24, 0.26, 0.27, 0.28, 0.30, 0.36, 0.50, 0.60, 0.66, 0.70, 0.72, 0.72, 0.73, 0.74, 0.76, 0.78],
    [0.05, 0.06, 0.07, 0.09, 0.10, 0.13, 0.18, 0.24, 0.32, 0.50, 0.76, 0.88, 0.89, 0.88, 0.88, 0.87, 0.86, 0.85, 0.84],
    [0.04, 0.04, 0.04, 0.05, 0.05, 0.06, 0.07, 0.09, 0.16, 0.50, 0.80, 0.88, 0.88, 0.89, 0.90, 0.92, 0.95, 0.97, 0.98],
    [0.01, 0.00, 0.00, 0.01, 0.03, 0.05, 0.08, 0.12, 0.24, 0.50, 0.66, 0.72, 0.78, 0.82, 0.86, 0.88, 0.90, 0.92, 0.93],
    [0.14, 0.14, 0.14, 0.14, 0.14, 0.16, 0.20, 0.24, 0.30, 0.50, 0.64, 0.70, 0.76, 0.79, 0.82, 0.84, 0.86, 0.87, 0.88],
    [0.06, 0.07, 0.08, 0.09, 0.10, 0.12, 0.14, 0.20, 0.30, 0.50, 0.62, 0.68, 0.74, 0.77, 0.80, 0.82, 0.84, 0.85, 0.86],
    [0.02, 0.04, 0.05, 0.06, 0.08, 0.10, 0.12, 0.16, 0.26, 0.48, 0.66, 0.74, 0.80, 0.83, 0.85, 0.87, 0.88, 0.90, 0.92],
    [0.10, 0.11, 0.12, 0.13, 0.14, 0.16, 0.20, 0.22, 0.28, 0.50, 0.72, 0.78, 0.80, 0.84, 0.88, 0.92, 0.94, 0.95, 0.96],
]
B1_ORT = [
    [0.52, 0.52, 0.51, 0.51, 0.52, 0.51, 0.51, 0.52, 0.52, 0.51, 0.52, 0.51, 0.50, 0.50, 0.49, 0.50, 0.51, 0.53, 0.54],
    [0.48, 0.47, 0.47, 0.47, 0.47, 0.48, 0.48, 0.49, 0.49, 0.50, 0.50, 0.50, 0.49, 0.48, 0.46, 0.44, 0.43, 0.43, 0.42],
    [0.50, 0.50, 0.50, 0.50, 0.50, 0.50, 0.50, 0.50, 0.50, 0.50, 0.50, 0.49, 0.49, 0.49, 0.48, 0.48, 0.48, 0.49, 0.49],
    [0.53, 0.53, 0.52, 0.52, 0.52, 0.52, 0.53, 0.54, 0.54, 0.52, 0.51, 0.50, 0.50, 0.50, 0.50, 0.50, 0.50, 0.51, 0.51],
    [0.51, 0.50, 0.50, 0.49, 0.49, 0.49, 0.49, 0.50, 0.51, 0.51, 0.50, 0.49, 0.48, 0.47, 0.47, 0.46, 0.45, 0.45, 0.46],
    [0.49, 0.49, 0.49, 0.49, 0.49, 0.50, 0.50, 0.51, 0.52, 0.53, 0.52, 0.51, 0.51, 0.50, 0.50, 0.51, 0.52, 0.52, 0.52],
    [0.50, 0.51, 0.51, 0.51, 0.50, 0.50, 0.50, 0.50, 0.49, 0.49, 0.49, 0.49, 0.50, 0.50, 0.49, 0.49, 0.50, 0.50, 0.50],
]

# ---------------- B2: Nystagmus Control GROUP ----------------
B2_PAR = [
    [0.03, 0.03, 0.03, 0.04, 0.04, 0.05, 0.06, 0.08, 0.14, 0.50, 0.90, 0.99, 0.98, 0.97, 0.98, 1.00, 1.02, 1.03, 1.04],
    [0.06, 0.06, 0.07, 0.07, 0.08, 0.09, 0.10, 0.12, 0.18, 0.50, 0.80, 0.88, 0.90, 0.92, 0.94, 0.96, 0.98, 1.00, 1.02],
    [0.28, 0.28, 0.27, 0.27, 0.28, 0.28, 0.27, 0.30, 0.36, 0.50, 0.60, 0.64, 0.66, 0.70, 0.74, 0.78, 0.82, 0.86, 0.88],
    [0.25, 0.26, 0.27, 0.27, 0.26, 0.25, 0.27, 0.29, 0.34, 0.50, 0.62, 0.68, 0.72, 0.74, 0.76, 0.78, 0.78, 0.80, 0.80],
    [0.02, 0.03, 0.04, 0.05, 0.06, 0.08, 0.12, 0.18, 0.28, 0.50, 0.62, 0.66, 0.70, 0.71, 0.72, 0.72, 0.71, 0.71, 0.71],
    [0.00, 0.01, 0.02, 0.03, 0.05, 0.08, 0.12, 0.16, 0.24, 0.48, 0.66, 0.76, 0.82, 0.86, 0.90, 0.94, 0.98, 1.00, 1.01],
    [0.08, 0.09, 0.09, 0.10, 0.10, 0.10, 0.12, 0.16, 0.22, 0.50, 0.74, 0.84, 0.88, 0.90, 0.90, 0.89, 0.90, 0.92, 0.94],
    [-0.02, 0.00, 0.02, 0.04, 0.06, 0.08, 0.10, 0.14, 0.24, 0.50, 0.70, 0.80, 0.86, 0.88, 0.88, 0.89, 0.90, 0.91, 0.92],
    [0.04, 0.04, 0.04, 0.05, 0.05, 0.06, 0.06, 0.08, 0.12, 0.50, 0.86, 0.95, 0.96, 0.97, 0.98, 1.00, 1.01, 1.02, 1.03],
    [0.01, 0.01, 0.01, 0.00, 0.00, 0.00, 0.01, 0.04, 0.12, 0.46, 0.68, 0.74, 0.78, 0.82, 0.85, 0.88, 0.90, 0.91, 0.92],
    [0.20, 0.18, 0.16, 0.15, 0.14, 0.16, 0.20, 0.26, 0.32, 0.50, 0.62, 0.68, 0.72, 0.76, 0.80, 0.83, 0.86, 0.88, 0.90],
    [0.05, 0.05, 0.06, 0.06, 0.07, 0.07, 0.08, 0.10, 0.16, 0.50, 0.78, 0.86, 0.90, 0.92, 0.93, 0.94, 0.96, 0.97, 0.98],
    [0.03, 0.02, 0.02, 0.02, 0.02, 0.02, 0.04, 0.08, 0.18, 0.50, 0.72, 0.80, 0.84, 0.86, 0.87, 0.88, 0.89, 0.90, 0.90],
    [0.10, 0.11, 0.12, 0.14, 0.16, 0.20, 0.26, 0.30, 0.36, 0.50, 0.60, 0.64, 0.68, 0.70, 0.72, 0.75, 0.78, 0.80, 0.82],
]
B2_ORT = [
    [0.58, 0.58, 0.57, 0.56, 0.55, 0.54, 0.53, 0.52, 0.51, 0.50, 0.50, 0.50, 0.51, 0.52, 0.53, 0.53, 0.53, 0.54, 0.54],
    [0.42, 0.42, 0.43, 0.44, 0.45, 0.46, 0.47, 0.48, 0.49, 0.50, 0.49, 0.48, 0.48, 0.47, 0.46, 0.45, 0.45, 0.44, 0.43],
    [0.52, 0.53, 0.53, 0.52, 0.52, 0.52, 0.52, 0.51, 0.51, 0.50, 0.51, 0.52, 0.53, 0.52, 0.51, 0.51, 0.52, 0.53, 0.53],
    [0.48, 0.48, 0.48, 0.49, 0.49, 0.49, 0.49, 0.49, 0.50, 0.50, 0.50, 0.49, 0.49, 0.49, 0.50, 0.50, 0.49, 0.48, 0.48],
    [0.55, 0.56, 0.56, 0.55, 0.53, 0.52, 0.52, 0.52, 0.52, 0.51, 0.50, 0.49, 0.48, 0.48, 0.48, 0.49, 0.50, 0.50, 0.50],
    [0.46, 0.46, 0.45, 0.45, 0.46, 0.47, 0.48, 0.49, 0.49, 0.50, 0.51, 0.52, 0.52, 0.51, 0.51, 0.50, 0.50, 0.51, 0.51],
    [0.50, 0.50, 0.50, 0.50, 0.50, 0.50, 0.50, 0.50, 0.50, 0.50, 0.50, 0.50, 0.50, 0.50, 0.50, 0.50, 0.50, 0.50, 0.50],
    [0.51, 0.51, 0.52, 0.52, 0.52, 0.51, 0.51, 0.51, 0.50, 0.49, 0.48, 0.48, 0.49, 0.50, 0.51, 0.52, 0.51, 0.50, 0.49],
]

# ---------------- B3: Developmental Cataract GROUP ----------------
B3_PAR = [
    [0.00, 0.00, 0.00, 0.00, 0.00, 0.00, 0.01, 0.06, 0.26, 0.50, 0.70, 0.86, 0.94, 0.98, 1.00, 1.00, 1.01, 1.00, 0.99, 0.98, 0.98, 0.98, 0.98, 1.00, 1.02],
    [0.01, 0.01, 0.01, 0.01, 0.01, 0.01, 0.02, 0.08, 0.28, 0.50, 0.68, 0.82, 0.90, 0.94, 0.96, 0.97, 0.98, 0.98, 0.97, 0.96, 0.96, 0.96, 0.97, 0.99, 1.01],
    [0.05, 0.05, 0.05, 0.05, 0.05, 0.06, 0.08, 0.14, 0.32, 0.50, 0.66, 0.80, 0.90, 0.96, 0.98, 1.00, 1.03, 1.02, 1.00, 0.99, 0.99, 0.99, 1.00, 1.02, 1.04],
    [0.02, 0.02, 0.02, 0.02, 0.02, 0.03, 0.05, 0.12, 0.30, 0.50, 0.68, 0.84, 0.96, 1.00, 1.00, 0.99, 0.98, 0.97, 0.96, 0.95, 0.95, 0.95, 0.96, 0.98, 0.99],
    [0.04, 0.04, 0.04, 0.04, 0.04, 0.04, 0.06, 0.12, 0.30, 0.50, 0.68, 0.82, 0.90, 0.93, 0.94, 0.94, 0.95, 0.95, 0.94, 0.94, 0.94, 0.94, 0.94, 0.95, 0.96],
    [0.00, 0.00, 0.00, 0.00, 0.00, 0.00, 0.02, 0.08, 0.28, 0.50, 0.70, 0.86, 0.95, 0.99, 0.99, 0.98, 0.98, 0.99, 0.99, 0.98, 0.98, 0.98, 0.99, 1.01, 1.03],
    [0.01, 0.01, 0.01, 0.01, 0.01, 0.02, 0.03, 0.09, 0.28, 0.50, 0.72, 0.88, 0.98, 1.02, 1.02, 1.01, 1.00, 1.00, 0.98, 0.97, 0.97, 0.98, 0.99, 1.01, 1.02],
    [0.01, 0.01, 0.01, 0.01, 0.02, 0.04, 0.06, 0.12, 0.26, 0.48, 0.66, 0.80, 0.90, 0.95, 0.96, 0.96, 0.96, 0.96, 0.96, 0.96, 0.96, 0.96, 0.97, 0.98, 1.00],
    [0.00, 0.00, 0.00, 0.00, 0.00, 0.00, 0.00, 0.04, 0.22, 0.48, 0.74, 0.92, 1.00, 1.00, 1.00, 1.00, 0.99, 0.98, 0.98, 0.98, 0.98, 0.98, 0.99, 1.00, 1.01],
    [0.15, 0.20, 0.22, 0.28, 0.33, 0.37, 0.39, 0.42, 0.46, 0.50, 0.55, 0.60, 0.64, 0.67, 0.70, 0.72, 0.74, 0.77, 0.77, 0.77, 0.78, 0.80, 0.82, 0.81, 0.80],
]
B3_ORT = [
    [0.51, 0.51, 0.51, 0.51, 0.51, 0.51, 0.51, 0.51, 0.51, 0.51, 0.52, 0.52, 0.52, 0.52, 0.51, 0.51, 0.51, 0.51, 0.51, 0.50, 0.50, 0.50, 0.50, 0.50, 0.50],
    [0.49, 0.49, 0.49, 0.49, 0.49, 0.49, 0.49, 0.49, 0.50, 0.50, 0.50, 0.51, 0.51, 0.50, 0.50, 0.50, 0.50, 0.49, 0.49, 0.49, 0.49, 0.49, 0.49, 0.49, 0.49],
    [0.52, 0.52, 0.52, 0.51, 0.51, 0.51, 0.51, 0.51, 0.51, 0.50, 0.50, 0.50, 0.50, 0.51, 0.51, 0.51, 0.51, 0.51, 0.51, 0.51, 0.51, 0.51, 0.51, 0.51, 0.51],
    [0.48, 0.48, 0.48, 0.49, 0.49, 0.49, 0.49, 0.49, 0.49, 0.50, 0.50, 0.49, 0.49, 0.49, 0.49, 0.49, 0.49, 0.50, 0.50, 0.50, 0.50, 0.50, 0.50, 0.50, 0.50],
    [0.50, 0.50, 0.50, 0.50, 0.50, 0.50, 0.50, 0.50, 0.50, 0.50, 0.51, 0.53, 0.53, 0.53, 0.52, 0.52, 0.51, 0.51, 0.50, 0.50, 0.50, 0.50, 0.50, 0.50, 0.50],
    [0.50, 0.50, 0.50, 0.50, 0.50, 0.50, 0.50, 0.50, 0.50, 0.50, 0.49, 0.49, 0.49, 0.49, 0.49, 0.49, 0.49, 0.49, 0.49, 0.49, 0.49, 0.49, 0.49, 0.49, 0.49],
]

# ---------------- B4: Sighted Control GROUP ----------------
B4_PAR = [
    [0.03, 0.03, 0.03, 0.03, 0.03, 0.03, 0.04, 0.10, 0.28, 0.50, 0.70, 0.86, 0.95, 0.98, 0.97, 0.96, 0.96, 0.96, 0.96, 0.96, 0.96, 0.96, 0.96, 0.98, 0.99],
    [0.05, 0.05, 0.05, 0.05, 0.05, 0.06, 0.08, 0.14, 0.32, 0.52, 0.70, 0.86, 0.98, 1.04, 1.04, 1.03, 1.02, 1.02, 1.02, 1.02, 1.02, 1.02, 1.02, 1.00, 0.99],
    [0.01, 0.01, 0.01, 0.01, 0.01, 0.02, 0.03, 0.08, 0.26, 0.48, 0.66, 0.80, 0.88, 0.92, 0.92, 0.92, 0.92, 0.92, 0.93, 0.93, 0.93, 0.93, 0.94, 0.98, 0.99],
    [0.04, 0.04, 0.04, 0.04, 0.04, 0.04, 0.05, 0.10, 0.28, 0.50, 0.68, 0.82, 0.90, 0.94, 0.93, 0.91, 0.91, 0.91, 0.92, 0.92, 0.92, 0.92, 0.92, 0.95, 0.97],
    [-0.02, -0.02, -0.02, -0.02, -0.02, -0.01, 0.00, 0.06, 0.24, 0.46, 0.66, 0.84, 0.96, 1.02, 1.00, 0.97, 0.96, 0.96, 0.96, 0.95, 0.95, 0.95, 0.96, 0.99, 1.00],
    [0.02, 0.02, 0.02, 0.02, 0.02, 0.03, 0.04, 0.10, 0.28, 0.50, 0.68, 0.82, 0.92, 0.96, 0.96, 0.96, 0.96, 0.96, 0.96, 0.96, 0.96, 0.96, 0.97, 1.02, 1.02],
    [0.04, 0.04, 0.04, 0.04, 0.04, 0.04, 0.05, 0.10, 0.28, 0.50, 0.68, 0.82, 0.90, 0.94, 0.94, 0.94, 0.94, 0.94, 0.94, 0.94, 0.94, 0.94, 0.95, 0.99, 0.98],
    [0.03, 0.03, 0.03, 0.03, 0.03, 0.04, 0.05, 0.11, 0.29, 0.50, 0.68, 0.80, 0.88, 0.90, 0.89, 0.88, 0.89, 0.90, 0.90, 0.90, 0.91, 0.91, 0.92, 0.95, 0.97],
    [0.00, 0.00, 0.00, 0.00, 0.00, 0.00, 0.01, 0.06, 0.26, 0.50, 0.72, 0.88, 0.98, 1.00, 0.99, 0.98, 0.98, 0.98, 0.98, 0.98, 0.98, 0.98, 0.99, 1.00, 1.00],
]
B4_ORT = [
    [0.51, 0.51, 0.51, 0.51, 0.51, 0.51, 0.51, 0.51, 0.51, 0.51, 0.52, 0.52, 0.51, 0.51, 0.51, 0.51, 0.51, 0.51, 0.51, 0.51, 0.51, 0.51, 0.51, 0.51, 0.51],
    [0.49, 0.49, 0.49, 0.49, 0.49, 0.49, 0.49, 0.49, 0.49, 0.50, 0.50, 0.50, 0.50, 0.49, 0.49, 0.49, 0.49, 0.49, 0.49, 0.49, 0.49, 0.49, 0.49, 0.49, 0.49],
    [0.52, 0.52, 0.52, 0.52, 0.52, 0.52, 0.51, 0.51, 0.51, 0.51, 0.51, 0.52, 0.52, 0.52, 0.51, 0.51, 0.50, 0.50, 0.50, 0.50, 0.50, 0.50, 0.50, 0.50, 0.50],
    [0.48, 0.48, 0.48, 0.48, 0.48, 0.48, 0.49, 0.49, 0.49, 0.49, 0.49, 0.49, 0.49, 0.50, 0.50, 0.50, 0.50, 0.50, 0.50, 0.50, 0.50, 0.50, 0.50, 0.50, 0.50],
    [0.50, 0.50, 0.50, 0.50, 0.50, 0.50, 0.50, 0.50, 0.50, 0.50, 0.50, 0.50, 0.51, 0.51, 0.51, 0.51, 0.51, 0.50, 0.50, 0.50, 0.50, 0.50, 0.50, 0.50, 0.50],
    [0.50, 0.50, 0.50, 0.50, 0.50, 0.50, 0.50, 0.50, 0.50, 0.50, 0.49, 0.49, 0.49, 0.49, 0.49, 0.49, 0.49, 0.49, 0.49, 0.49, 0.49, 0.49, 0.49, 0.49, 0.49],
]

TITLES = ["Congenital Cataract SUBJECT", "Nystagmus Control SUBJECT", "Developmental Cataract SUBJECT", "Sighted Control SUBJECT",
          "Congenital Cataract GROUP", "Nystagmus Control GROUP", "Developmental Cataract GROUP", "Sighted Control GROUP"]
X_TICKS = [-150, -100, -50, 0, 50, 100, 150]
X_TICKTEXT = ["", "-100", "", "0", "", "100", ""]
Y_TICKS = [0, 0.25, 0.5, 0.75, 1]
Y_TICKTEXT = ["0", "", "0.5", "", "1"]
REF_LEVELS = [0, 1]

# ---------------- layout geometry ----------------
W, H = 1125, 639
COL_LEFT = [49, 326.7, 605.7, 883.7]
PX_PER_MS = 0.625
X_MIN, X_MAX = -197, 199
ROW_TB = [(30, 277.5), (351.5, 600.5)]
Y_RANGE = [-0.25, 1.25]

TEAL = "rgb(0,128,128)"
AXC = "#8a8a8a"
FONT = "Arial, Liberation Sans, sans-serif"

fig = go.Figure()

subject = [
    (TS, A1_PAR, A1_ORT, A1_PAR_MEAN, A1_ORT_MEAN),
    (TS, A2_PAR, A2_ORT, A2_PAR_MEAN, A2_ORT_MEAN),
    (TD, A3_PAR, A3_ORT, A3_PAR_MEAN, A3_ORT_MEAN),
    (TD, A4_PAR, A4_ORT, A4_PAR_MEAN, A4_ORT_MEAN),
]
group = [
    (TS, B1_PAR, B1_ORT),
    (TS, B2_PAR, B2_ORT),
    (TD, B3_PAR, B3_ORT),
    (TD, B4_PAR, B4_ORT),
]

def ax_names(i):
    return ("x" if i == 1 else f"x{i}", "y" if i == 1 else f"y{i}")

shapes = []
annotations = []
layout_axes = {}

for idx in range(8):
    i = idx + 1
    row, col = divmod(idx, 4)
    xa, ya = ax_names(i)
    left = COL_LEFT[col]
    right = min(left + (X_MAX - X_MIN) * PX_PER_MS, W)
    x_hi = X_MIN + (right - left) / PX_PER_MS
    top, bot = ROW_TB[row]
    layout_axes["xaxis" if i == 1 else f"xaxis{i}"] = dict(
        domain=[left / W, right / W], range=[X_MIN, x_hi], anchor=ya,
        showline=True, linecolor=AXC, linewidth=1, mirror=False,
        ticks="inside", ticklen=3, tickcolor=AXC, tickvals=X_TICKS, ticktext=X_TICKTEXT,
        ticklabelstandoff=5,
        tickfont=dict(size=11.5, color="#262626", family=FONT), showgrid=False, zeroline=False,
        fixedrange=True,
    )
    layout_axes["yaxis" if i == 1 else f"yaxis{i}"] = dict(
        domain=[1 - bot / H, 1 - top / H], range=Y_RANGE, anchor=xa,
        showline=True, linecolor=AXC, linewidth=1,
        ticks="inside", ticklen=3, tickcolor=AXC, tickvals=Y_TICKS,
        ticktext=Y_TICKTEXT if col == 0 else [""] * 5,
        tickfont=dict(size=11.5, color="#262626", family=FONT), showgrid=False, zeroline=False,
        fixedrange=True,
    )
    for lv in REF_LEVELS:
        shapes.append(dict(type="line", xref=f"{xa} domain", yref=ya, x0=0, x1=1, y0=lv, y1=lv,
                           line=dict(color="#c4c4c4", width=1), layer="below"))
    annotations.append(dict(text=f"<b>{TITLES[idx]}</b>", xref="paper", yref="paper",
                            x=(left + 12) / W, y=1 - (top + 13) / H, xanchor="left", yanchor="middle",
                            showarrow=False, font=dict(size=11.5, color="#111", family=FONT)))

    if row == 0:
        t, par, ort, pm, om = subject[col]
        for tr in ort:
            fig.add_trace(go.Scatter(x=t, y=tr, mode="lines", xaxis=xa, yaxis=ya, showlegend=False,
                                     line=dict(color="rgba(0,150,145,0.38)", width=0.8), hoverinfo="skip"))
        for tr in par:
            fig.add_trace(go.Scatter(x=t, y=tr, mode="lines", xaxis=xa, yaxis=ya, showlegend=False,
                                     line=dict(color="rgba(0,0,0,0.32)", width=0.8), hoverinfo="skip"))
        fig.add_trace(go.Scatter(x=t, y=om, mode="lines", xaxis=xa, yaxis=ya, showlegend=False,
                                 line=dict(color=TEAL, width=4, dash="dot"), hoverinfo="skip"))
        fig.add_trace(go.Scatter(x=t, y=pm, mode="lines", xaxis=xa, yaxis=ya, showlegend=False,
                                 line=dict(color="black", width=2.5), hoverinfo="skip"))
    else:
        t, par, ort = group[col]
        for k, tr in enumerate(ort):
            fig.add_trace(go.Scatter(x=t, y=tr, mode="lines", xaxis=xa, yaxis=ya,
                                     name="ORTHOGONAL", showlegend=(col == 0 and k == 0), legend="legend2",
                                     line=dict(color="rgba(0,135,135,0.75)", width=2.5, dash="2px,3px"), hoverinfo="skip"))
        for k, tr in enumerate(par):
            fig.add_trace(go.Scatter(x=t, y=tr, mode="lines", xaxis=xa, yaxis=ya,
                                     name="PARALLEL", showlegend=(col == 0 and k == 0), legend="legend",
                                     line=dict(color="rgba(0,0,0,0.45)", width=1.6), hoverinfo="skip"))

# panel letters and axis titles
annotations += [
    dict(text="<b>A</b>", x=34 / W, y=1 - 17 / H, xref="paper", yref="paper", showarrow=False,
         xanchor="center", yanchor="middle", font=dict(size=20, color="black", family=FONT)),
    dict(text="<b>B</b>", x=34 / W, y=1 - 340 / H, xref="paper", yref="paper", showarrow=False,
         xanchor="center", yanchor="middle", font=dict(size=20, color="black", family=FONT)),
]
for top, bot in ROW_TB:
    annotations.append(dict(text="GAIN", x=18 / W, y=1 - ((top + bot) / 2) / H, xref="paper", yref="paper",
                            xanchor="center", yanchor="middle",
                            textangle=-90, showarrow=False, font=dict(size=12, color="#262626", family=FONT)))
    annotations.append(dict(text="TIME (ms)", x=172 / W, y=1 - (bot + 28) / H, xref="paper", yref="paper",
                            xanchor="center", yanchor="middle",
                            showarrow=False, font=dict(size=12, color="#262626", family=FONT)))

LEG = dict(xanchor="left", yanchor="top", bgcolor="rgba(0,0,0,0)",
           font=dict(size=11, color="#262626", family=FONT), itemwidth=30)
fig.update_layout(
    width=W, height=H, margin=dict(l=0, r=0, t=0, b=0),
    paper_bgcolor="white", plot_bgcolor="white",
    shapes=shapes, annotations=annotations,
    legend=dict(x=171 / W, y=1 - 556 / H, **LEG),
    legend2=dict(x=171 / W, y=1 - 572 / H, **LEG),
    **layout_axes,
)

fig.write_html("out.html")
